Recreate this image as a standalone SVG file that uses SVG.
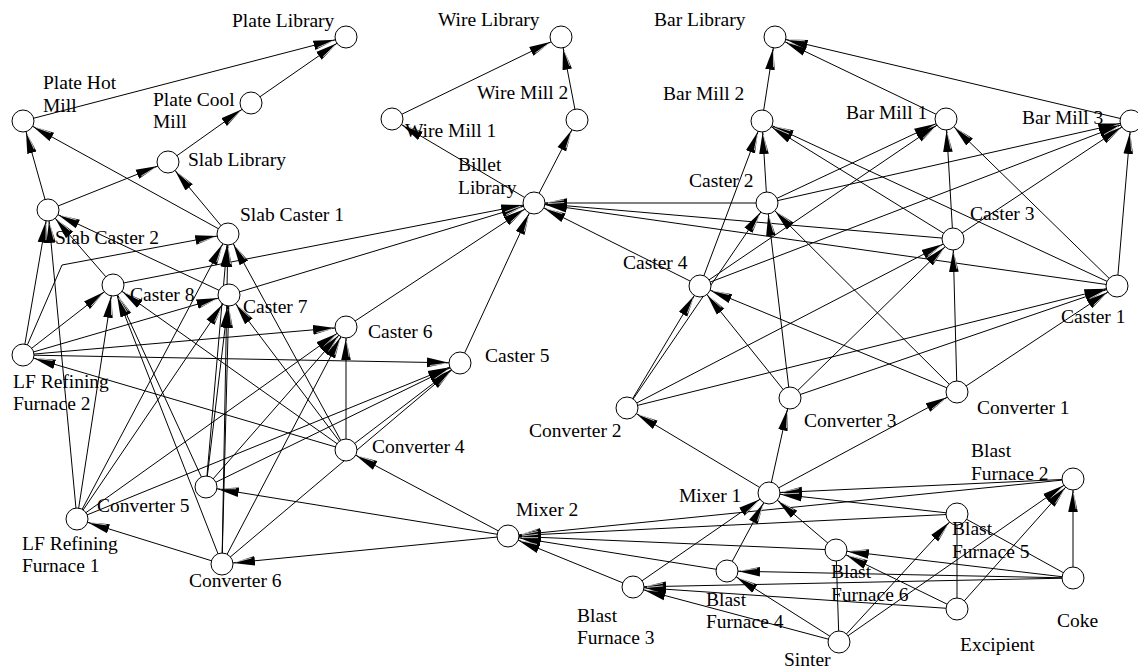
<svg xmlns="http://www.w3.org/2000/svg" width="1138" height="668" viewBox="0 0 1138 668">
<style>
text{font-family:"Liberation Serif","Times New Roman",serif;font-size:19.5px;fill:#000}
circle{fill:#fff;stroke:#000;stroke-width:1}
#edges line,#edges polyline{stroke:#000;stroke-width:1;fill:none}
#edges .a{marker-end:url(#ah)}
</style>
<defs>
<marker id="ah" markerUnits="userSpaceOnUse" markerWidth="34" markerHeight="11" refX="33" refY="5.5" orient="auto">
<path d="M0,0.7 L22,5.5 L0,10.3 z" fill="#000"/>
<path d="M3,8.6 L19,6.1" stroke="#fff" stroke-width="0.7" fill="none"/>
</marker>
</defs>
<rect width="1138" height="668" fill="#fff"/>
<g id="edges">
<line class="a" x1="23" y1="121" x2="346" y2="37"/>
<line class="a" x1="251" y1="103" x2="346" y2="37"/>
<line class="a" x1="168" y1="162" x2="251" y2="103"/>
<line class="a" x1="48" y1="210" x2="23" y2="121"/>
<line class="a" x1="48" y1="210" x2="168" y2="162"/>
<line class="a" x1="228" y1="234" x2="23" y2="121"/>
<line class="a" x1="228" y1="234" x2="168" y2="162"/>
<line class="a" x1="392" y1="119" x2="561" y2="37"/>
<line class="a" x1="577" y1="120" x2="561" y2="37"/>
<line class="a" x1="534" y1="203" x2="392" y2="119"/>
<line class="a" x1="534" y1="203" x2="577" y2="120"/>
<line class="a" x1="762" y1="121" x2="775" y2="37"/>
<line class="a" x1="946" y1="119" x2="775" y2="37"/>
<line class="a" x1="1131" y1="121" x2="775" y2="37"/>
<line class="a" x1="1117" y1="286" x2="946" y2="119"/>
<line class="a" x1="1117" y1="286" x2="762" y2="121"/>
<line class="a" x1="1117" y1="286" x2="1131" y2="121"/>
<line class="a" x1="1117" y1="286" x2="534" y2="203"/>
<line class="a" x1="767" y1="203" x2="946" y2="119"/>
<line class="a" x1="767" y1="203" x2="762" y2="121"/>
<line class="a" x1="767" y1="203" x2="1131" y2="121"/>
<line class="a" x1="767" y1="203" x2="534" y2="203"/>
<line class="a" x1="953" y1="239" x2="946" y2="119"/>
<line class="a" x1="953" y1="239" x2="762" y2="121"/>
<line class="a" x1="953" y1="239" x2="1131" y2="121"/>
<line class="a" x1="953" y1="239" x2="534" y2="203"/>
<line class="a" x1="700" y1="286" x2="946" y2="119"/>
<line class="a" x1="700" y1="286" x2="762" y2="121"/>
<line class="a" x1="700" y1="286" x2="1131" y2="121"/>
<line class="a" x1="700" y1="286" x2="534" y2="203"/>
<line class="a" x1="460" y1="363" x2="534" y2="203"/>
<line class="a" x1="346" y1="327" x2="534" y2="203"/>
<line class="a" x1="229" y1="295" x2="534" y2="203"/>
<line class="a" x1="113" y1="285" x2="534" y2="203"/>
<line class="a" x1="957" y1="392" x2="1117" y2="286"/>
<line class="a" x1="957" y1="392" x2="767" y2="203"/>
<line class="a" x1="957" y1="392" x2="953" y2="239"/>
<line class="a" x1="957" y1="392" x2="700" y2="286"/>
<line class="a" x1="627" y1="408" x2="1117" y2="286"/>
<line class="a" x1="627" y1="408" x2="767" y2="203"/>
<line class="a" x1="627" y1="408" x2="953" y2="239"/>
<line class="a" x1="627" y1="408" x2="700" y2="286"/>
<line class="a" x1="790" y1="398" x2="1117" y2="286"/>
<line class="a" x1="790" y1="398" x2="767" y2="203"/>
<line class="a" x1="790" y1="398" x2="953" y2="239"/>
<line class="a" x1="790" y1="398" x2="700" y2="286"/>
<line class="a" x1="769" y1="493" x2="957" y2="392"/>
<line class="a" x1="769" y1="493" x2="627" y2="408"/>
<line class="a" x1="769" y1="493" x2="790" y2="398"/>
<line class="a" x1="508" y1="536" x2="346" y2="450"/>
<line class="a" x1="508" y1="536" x2="206" y2="487"/>
<line class="a" x1="508" y1="536" x2="222" y2="564"/>
<line class="a" x1="1073" y1="479" x2="769" y2="493"/>
<line class="a" x1="1073" y1="479" x2="508" y2="536"/>
<line class="a" x1="957" y1="514" x2="769" y2="493"/>
<line class="a" x1="957" y1="514" x2="508" y2="536"/>
<line class="a" x1="836" y1="550" x2="769" y2="493"/>
<line class="a" x1="836" y1="550" x2="508" y2="536"/>
<line class="a" x1="727" y1="571" x2="769" y2="493"/>
<line class="a" x1="727" y1="571" x2="508" y2="536"/>
<line class="a" x1="633" y1="587" x2="769" y2="493"/>
<line class="a" x1="633" y1="587" x2="508" y2="536"/>
<line class="a" x1="1073" y1="578" x2="1073" y2="479"/>
<line class="a" x1="1073" y1="578" x2="633" y2="587"/>
<line class="a" x1="1073" y1="578" x2="727" y2="571"/>
<line class="a" x1="1073" y1="578" x2="836" y2="550"/>
<line x1="1073" y1="578" x2="957" y2="514"/>
<line class="a" x1="839" y1="642" x2="1073" y2="479"/>
<line class="a" x1="839" y1="642" x2="633" y2="587"/>
<line class="a" x1="839" y1="642" x2="727" y2="571"/>
<line class="a" x1="839" y1="642" x2="957" y2="514"/>
<line x1="839" y1="642" x2="836" y2="550"/>
<line class="a" x1="957" y1="609" x2="1073" y2="479"/>
<line class="a" x1="957" y1="609" x2="633" y2="587"/>
<line class="a" x1="957" y1="609" x2="836" y2="550"/>
<line x1="957" y1="609" x2="957" y2="514"/>
<line class="a" x1="23" y1="355" x2="48" y2="210"/>
<line class="a" x1="23" y1="355" x2="113" y2="285"/>
<line class="a" x1="23" y1="355" x2="229" y2="295"/>
<line class="a" x1="23" y1="355" x2="346" y2="327"/>
<line class="a" x1="23" y1="355" x2="460" y2="363"/>
<polyline class="a" points="23,355 62,265 228,234"/>
<line class="a" x1="77" y1="519" x2="48" y2="210"/>
<line class="a" x1="77" y1="519" x2="113" y2="285"/>
<line class="a" x1="77" y1="519" x2="229" y2="295"/>
<line class="a" x1="77" y1="519" x2="346" y2="327"/>
<line class="a" x1="77" y1="519" x2="460" y2="363"/>
<line class="a" x1="77" y1="519" x2="228" y2="234"/>
<line class="a" x1="346" y1="450" x2="113" y2="285"/>
<line class="a" x1="346" y1="450" x2="229" y2="295"/>
<line class="a" x1="346" y1="450" x2="346" y2="327"/>
<line class="a" x1="346" y1="450" x2="460" y2="363"/>
<line class="a" x1="346" y1="450" x2="228" y2="234"/>
<line class="a" x1="346" y1="450" x2="23" y2="355"/>
<line class="a" x1="206" y1="487" x2="113" y2="285"/>
<line class="a" x1="206" y1="487" x2="229" y2="295"/>
<line class="a" x1="206" y1="487" x2="346" y2="327"/>
<line class="a" x1="206" y1="487" x2="460" y2="363"/>
<line class="a" x1="206" y1="487" x2="228" y2="234"/>
<line class="a" x1="222" y1="564" x2="113" y2="285"/>
<line class="a" x1="222" y1="564" x2="229" y2="295"/>
<line class="a" x1="222" y1="564" x2="346" y2="327"/>
<line class="a" x1="222" y1="564" x2="460" y2="363"/>
<line class="a" x1="222" y1="564" x2="228" y2="234"/>
<line class="a" x1="222" y1="564" x2="77" y2="519"/>
<line class="a" x1="113" y1="285" x2="48" y2="210"/>
<line class="a" x1="229" y1="295" x2="48" y2="210"/>
</g>
<g id="plate-library"><circle cx="346" cy="37" r="11"/><text x="232" y="27">Plate Library</text></g>
<g id="plate-hot-mill"><circle cx="23" cy="121" r="11"/><text x="43" y="89">Plate Hot</text><text x="43" y="112">Mill</text></g>
<g id="plate-cool-mill"><circle cx="251" cy="103" r="11"/><text x="153" y="106">Plate Cool</text><text x="153" y="128">Mill</text></g>
<g id="slab-library"><circle cx="168" cy="162" r="11"/><text x="188" y="166">Slab Library</text></g>
<g id="slab-caster-2"><circle cx="48" cy="210" r="11"/><text x="55" y="244">Slab Caster 2</text></g>
<g id="slab-caster-1"><circle cx="228" cy="234" r="11"/><text x="240" y="221">Slab Caster 1</text></g>
<g id="caster-8"><circle cx="113" cy="285" r="11"/><text x="130" y="301">Caster 8</text></g>
<g id="caster-7"><circle cx="229" cy="295" r="11"/><text x="243" y="313">Caster 7</text></g>
<g id="caster-6"><circle cx="346" cy="327" r="11"/><text x="368" y="338">Caster 6</text></g>
<g id="caster-5"><circle cx="460" cy="363" r="11"/><text x="485" y="362">Caster 5</text></g>
<g id="lf-refining-furnace-2"><circle cx="23" cy="355" r="11"/><text x="13" y="388">LF Refining</text><text x="13" y="410">Furnace 2</text></g>
<g id="lf-refining-furnace-1"><circle cx="77" cy="519" r="11"/><text x="22" y="550">LF Refining</text><text x="22" y="572">Furnace 1</text></g>
<g id="converter-4"><circle cx="346" cy="450" r="11"/><text x="372" y="453">Converter 4</text></g>
<g id="converter-5"><circle cx="206" cy="487" r="11"/><text x="97" y="512">Converter 5</text></g>
<g id="converter-6"><circle cx="222" cy="564" r="11"/><text x="189" y="587">Converter 6</text></g>
<g id="mixer-2"><circle cx="508" cy="536" r="11"/><text x="516" y="516">Mixer 2</text></g>
<g id="mixer-1"><circle cx="769" cy="493" r="11"/><text x="679" y="502">Mixer 1</text></g>
<g id="blast-furnace-3"><circle cx="633" cy="587" r="11"/><text x="577" y="622">Blast</text><text x="577" y="644">Furnace 3</text></g>
<g id="blast-furnace-4"><circle cx="727" cy="571" r="11"/><text x="706" y="606">Blast</text><text x="706" y="628">Furnace 4</text></g>
<g id="blast-furnace-6"><circle cx="836" cy="550" r="11"/><text x="831" y="578">Blast</text><text x="831" y="601">Furnace 6</text></g>
<g id="blast-furnace-5"><circle cx="957" cy="514" r="11"/><text x="952" y="535">Blast</text><text x="952" y="558">Furnace 5</text></g>
<g id="blast-furnace-2"><circle cx="1073" cy="479" r="11"/><text x="971" y="457">Blast</text><text x="971" y="480">Furnace 2</text></g>
<g id="coke"><circle cx="1073" cy="578" r="11"/><text x="1057" y="627">Coke</text></g>
<g id="excipient"><circle cx="957" cy="609" r="11"/><text x="960" y="651">Excipient</text></g>
<g id="sinter"><circle cx="839" cy="642" r="11"/><text x="784" y="666">Sinter</text></g>
<g id="converter-1"><circle cx="957" cy="392" r="11"/><text x="977" y="414">Converter 1</text></g>
<g id="converter-3"><circle cx="790" cy="398" r="11"/><text x="804" y="427">Converter 3</text></g>
<g id="converter-2"><circle cx="627" cy="408" r="11"/><text x="529" y="437">Converter 2</text></g>
<g id="caster-4"><circle cx="700" cy="286" r="11"/><text x="623" y="269">Caster 4</text></g>
<g id="caster-1"><circle cx="1117" cy="286" r="11"/><text x="1061" y="323">Caster 1</text></g>
<g id="caster-3"><circle cx="953" cy="239" r="11"/><text x="970" y="220">Caster 3</text></g>
<g id="caster-2"><circle cx="767" cy="203" r="11"/><text x="689" y="187">Caster 2</text></g>
<g id="bar-mill-2"><circle cx="762" cy="121" r="11"/><text x="663" y="100">Bar Mill 2</text></g>
<g id="bar-mill-1"><circle cx="946" cy="119" r="11"/><text x="846" y="119">Bar Mill 1</text></g>
<g id="bar-mill-3"><circle cx="1131" cy="121" r="11"/><text x="1022" y="124">Bar Mill 3</text></g>
<g id="bar-library"><circle cx="775" cy="37" r="11"/><text x="654" y="26">Bar Library</text></g>
<g id="wire-library"><circle cx="561" cy="37" r="11"/><text x="438" y="26">Wire Library</text></g>
<g id="wire-mill-2"><circle cx="577" cy="120" r="11"/><text x="477" y="99">Wire Mill 2</text></g>
<g id="wire-mill-1"><circle cx="392" cy="119" r="11"/><text x="405" y="137">Wire Mill 1</text></g>
<g id="billet-library"><circle cx="534" cy="203" r="11"/><text x="458" y="171">Billet</text><text x="458" y="194">Library</text></g>
</svg>
